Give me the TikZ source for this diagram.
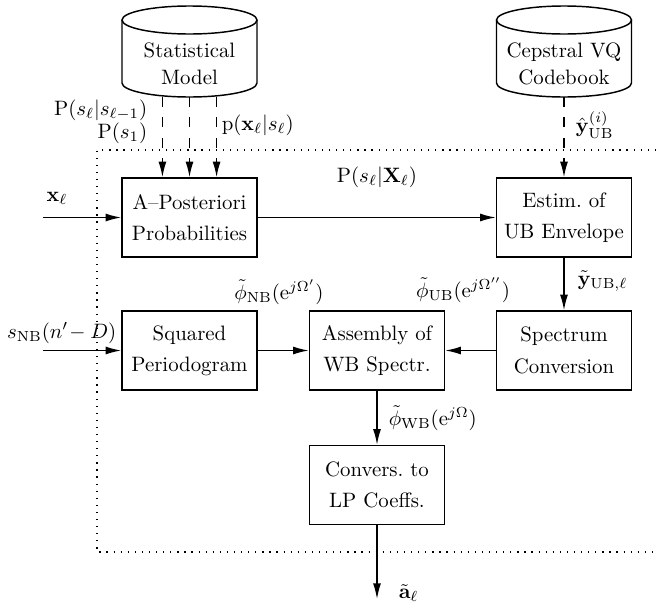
\documentclass[tikz,border=0pt]{standalone}
\usepackage{amsmath}
\usetikzlibrary{arrows.meta}

\begin{document}
\begin{tikzpicture}
  [x=0.48pt, y=-0.48pt, line width=0.7pt, >={Latex[length=7.5pt,width=3.8pt]},
   block/.style={draw, rectangle, align=center, minimum width=64.8pt, minimum height=37.9pt, inner sep=0pt},
   store/.style={align=center, inner sep=0pt},
   lbl/.style={inner sep=1pt},
   feed/.style={->, dash pattern=on 4.8pt off 5pt}]
  \useasboundingbox (0,0) rectangle (656,607);
  \node[store] (model) at (189.5,63.5) {Statistical\\[1pt] Model};
  \node[store] (codebook) at (564,63.5) {Cepstral VQ\\[1pt] Codebook};
  \foreach \n in {model,codebook} {
    \draw ([shift={(-67.5,-43.5)}]\n.center) -- ([shift={(-67.5,19.5)}]\n.center)
      arc[start angle=180, end angle=0, x radius=67.5, y radius=14]
      -- ([shift={(67.5,-43.5)}]\n.center);
    \draw ([shift={(0,-43.5)}]\n.center) ellipse [x radius=67.5, y radius=14];
    \coordinate (\n-b) at ([shift={(0,33.5)}]\n.center);
  }
  \node[block] (post) at (189.5,217.5) {A--Posteriori\\[3pt] Probabilities};
  \node[block] (estim) at (564,217.5) {Estim.\ of\\[3pt] UB Envelope};
  \node[block] (periodo) at (189.5,350.5) {Squared\\[3pt] Periodogram};
  \node[block] (assembly) at (377,350.5) {Assembly of\\[3pt] WB Spectr.};
  \node[block] (spectrum) at (564,350.5) {Spectrum\\[3pt] Conversion};
  \node[block] (convers) at (377,485) {Convers.\ to\\[3pt] LP Coeffs.};
  \coordinate (xin) at (43,217.5);
  \coordinate (sin) at (43,350.5);
  \coordinate (aout) at (377,599);

  \draw[line width=0.6pt, dash pattern=on 0.6pt off 2.8pt] (656,150) -- (97,150) -- (97,552) -- (656,552);

  \draw[feed] ([xshift=-13pt]model-b) -- ([xshift=-13pt]post.north);
  \draw[feed] (model-b) -- (post.north);
  \draw[feed] ([xshift=13pt]model-b) -- ([xshift=13pt]post.north);
  \draw[feed] (codebook-b) -- (estim.north);
  \draw[->] (xin) -- (post);
  \draw[->] (post) -- (estim);
  \draw[->] (estim) -- (spectrum);
  \draw[->] (sin) -- (periodo);
  \draw[->] (periodo) -- (assembly);
  \draw[->] (spectrum) -- (assembly);
  \draw[->] (assembly) -- (convers);
  \draw[->] (convers) -- (aout);

  \node[lbl, anchor=east] (ptrans) at (150,110) {$\mathrm{P}(s_\ell|s_{\ell-1})$};
  \node[lbl, anchor=east] (pinit) at (150,133) {$\mathrm{P}(s_1)$};
  \node[lbl, anchor=west] (pemis) at (219,125) {$\mathrm{p}(\mathbf{x}_\ell|s_\ell)$};
  \node[lbl, anchor=west] (ycb) at (573,125) {$\hat{\mathbf{y}}_{\mathrm{UB}}^{(i)}$};
  \node[lbl] (xlab) at (57,198) {$\mathbf{x}_\ell$};
  \node[lbl] (plab) at (377,177) {$\mathrm{P}(s_\ell|\mathbf{X}_\ell)$};
  \node[lbl, anchor=east] (slab) at (119,333) {$s_{\mathrm{NB}}(n'\!-D)$};
  \node[lbl] (nblab) at (279,292) {$\tilde{\phi}_{\mathrm{NB}}(\mathrm{e}^{j\Omega'})$};
  \node[lbl] (ublab) at (463,290) {$\tilde{\phi}_{\mathrm{UB}}(\mathrm{e}^{j\Omega''})$};
  \node[lbl, anchor=west] (ylab) at (575,281) {$\tilde{\mathbf{y}}_{\mathrm{UB},\ell}$};
  \node[lbl, anchor=west] (wblab) at (386,418) {$\tilde{\phi}_{\mathrm{WB}}(\mathrm{e}^{j\Omega})$};
  \node[lbl, anchor=west] (alab) at (396,593) {$\tilde{\mathbf{a}}_\ell$};
\end{tikzpicture}
\end{document}
